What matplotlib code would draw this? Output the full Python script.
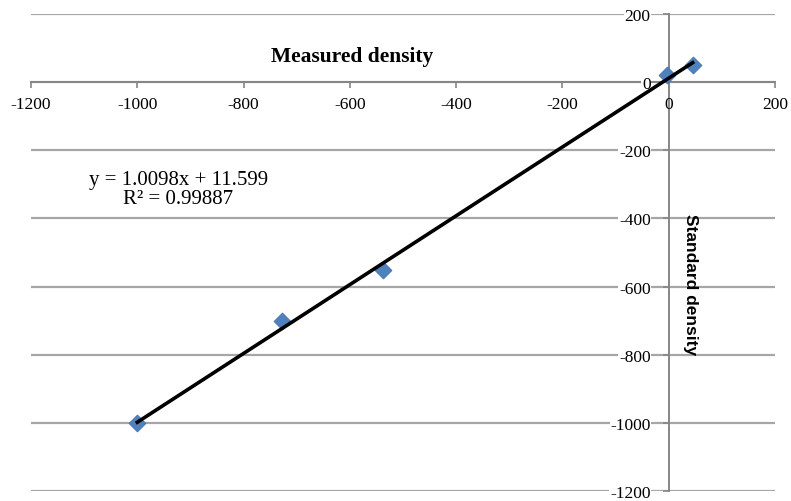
import matplotlib
matplotlib.use("Agg")
import matplotlib.pyplot as plt
import numpy as np

# measured vs standard density samples
measured = [-1000, -727, -538, -4, 45]
standard = [-1000, -700, -552, 20, 50]
slope = 1.0098
intercept = 11.599
r_squared = 0.99887
ticks = [-1200, -1000, -800, -600, -400, -200, 0, 200]

plt.rcParams["font.family"] = ["Liberation Serif", "DejaVu Serif"]

fig = plt.figure(figsize=(7.91, 5.02), dpi=100)
ax = fig.add_axes([31 / 791, 10 / 502, 744 / 791, 477 / 502])

ax.set_xlim(-1200, 200)
ax.set_ylim(-1200, 200)

# horizontal grid across the full plot area
for t in ticks:
    ax.axhline(t, color="#a6a6a6", lw=1.6, zorder=0)

for side in ("top", "right"):
    ax.spines[side].set_visible(False)
ax.spines["left"].set_position(("data", 0))
ax.spines["bottom"].set_position(("data", 0))
for side in ("left", "bottom"):
    ax.spines[side].set_color("#868686")
    ax.spines[side].set_linewidth(1.4)
    ax.spines[side].set_zorder(1)

ax.set_xticks(ticks)
ax.set_yticks(ticks)
ax.set_xticklabels([str(t) for t in ticks])
ax.set_yticklabels([str(t) for t in ticks])
ax.tick_params(axis="x", direction="out", length=4, width=1.2, color="#868686",
               labelsize=12.5, pad=6)
ax.tick_params(axis="y", direction="out", length=4, width=1.2, color="#868686",
               labelsize=12.5, pad=9)
for lab in ax.get_yticklabels():
    lab.set_bbox(dict(facecolor="white", edgecolor="none", pad=0.5))

# trendline from the fitted equation
xs = np.array([min(measured), max(measured)])
ax.plot(xs, slope * xs + intercept, color="black", lw=2.6, zorder=3)

ax.scatter(measured, standard, marker="D", s=75, color="#4f81bd",
           edgecolor="#3a6bb0", linewidth=0.5, zorder=2)

ax.text(-923, -314, f"y = {slope}x + {intercept}\nR² = {r_squared}",
        fontsize=15, ha="center", va="center", multialignment="center",
        linespacing=1.0)

ax.text(-595, 76, "Measured density", fontsize=15.5, fontweight="bold",
        ha="center", va="center")
ax.text(41, -592, "Standard density", fontsize=12.5, fontweight="bold",
        rotation=-90, ha="center", va="center",
        family=["Liberation Sans", "DejaVu Sans"])

fig.savefig("out.png", dpi=100)
